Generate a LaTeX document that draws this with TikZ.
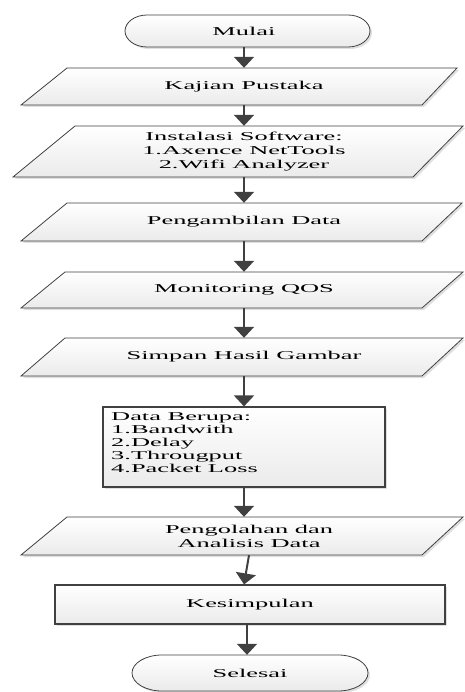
\documentclass[tikz,border=0pt]{standalone}
\usepackage{fontspec}
\setmainfont{Liberation Serif}[FakeStretch=2.2]
\usetikzlibrary{arrows.meta,shadows}
\definecolor{edge}{HTML}{404040}
\tikzset{
  shapebox/.style={draw=edge, line width=0.8pt, top color=white, bottom color=gray!16,
    drop shadow={shadow xshift=2pt, shadow yshift=-2pt, opacity=0.25, fill=gray}},
  rectbox/.style={shapebox, line width=1.2pt, inner sep=0pt},
  lbl/.style={inner sep=0pt, font=\fontsize{12}{14}\selectfont, text=black, align=center},
  flow/.style={draw=edge, line width=2pt, -{Triangle[width=20pt,length=11pt]}},
}
\begin{document}
\begin{tikzpicture}[x=1pt,y=-1pt]
\useasboundingbox (0,0) rectangle (464,692);
% shapes
\path[shapebox] (147,15) -- (348,15) .. controls (360.1,15) and (370,22.2) .. (370,31)
  .. controls (370,39.8) and (360.1,47) .. (348,47) -- (147,47)
  .. controls (134.9,47) and (125,39.8) .. (125,31)
  .. controls (125,22.2) and (134.9,15) .. (147,15) -- cycle;
\path[shapebox] (67,68) -- (457,68) -- (422,105) -- (21,105) -- cycle;
\path[shapebox] (75,126) -- (463,126) -- (413,177) -- (13,177) -- cycle;
\path[shapebox] (67,203) -- (462,203) -- (422,241) -- (21,241) -- cycle;
\path[shapebox] (65,272) -- (463,272) -- (422,308) -- (21,308) -- cycle;
\path[shapebox] (65,338) -- (463,338) -- (422,376) -- (21,376) -- cycle;
\path[shapebox] (67,517) -- (463,517) -- (422,555) -- (21,555) -- cycle;
\path[shapebox] (162,655) -- (338,655) .. controls (354.6,655) and (368,663.1) .. (368,673)
  .. controls (368,682.9) and (354.6,691) .. (338,691) -- (162,691)
  .. controls (145.4,691) and (132,682.9) .. (132,673)
  .. controls (132,663.1) and (145.4,655) .. (162,655) -- cycle;
% nodes
\node[lbl, minimum height=32pt] (mulai) at (244,31) {Mulai};
\node[lbl, minimum height=37pt] (kajian) at (244,86.5) {Kajian Pustaka};
\node[lbl, minimum height=51pt] (inst) at (244,151.5) {Instalasi Software:\\1.Axence NetTools\\2.Wifi Analyzer};
\node[lbl, minimum height=38pt] (peng) at (244,222) {Pengambilan Data};
\node[lbl, minimum height=36pt] (mon) at (244,290) {Monitoring QOS};
\node[lbl, minimum height=38pt] (simpan) at (244,357) {Simpan Hasil Gambar};
\node[rectbox, minimum width=282pt, minimum height=80pt] (data) at (244,447) {};
\node[lbl, anchor=west, align=left, font=\fontsize{12}{13}\selectfont] (datatxt) at (111,443)
  {Data Berupa:\\1.Bandwith\\2.Delay\\3.Througput\\4.Packet Loss};
\node[lbl, minimum height=38pt] (olah) at (249,536) {Pengolahan dan\\Analisis Data};
\node[rectbox, lbl, draw=edge, line width=1.2pt, minimum width=390pt, minimum height=39pt] (kes) at (250,604.5) {Kesimpulan};
\node[lbl, minimum height=36pt] (selesai) at (250,673) {Selesai};
% connectors
\draw[flow] (mulai.south) -- (kajian.north);
\draw[flow] (kajian.south) -- (inst.north);
\draw[flow] (inst.south) -- (peng.north);
\draw[flow] (peng.south) -- (mon.north);
\draw[flow] (mon.south) -- (simpan.north);
\draw[flow] (simpan.south) -- (data.north);
\draw[flow] (data.south) -- (data.south |- olah.north);
\draw[flow] (olah.south) -- ([xshift=-6pt]kes.north);
\draw[flow] ([xshift=-3pt]kes.south) -- ([xshift=-3pt]selesai.north);
\end{tikzpicture}
\end{document}
